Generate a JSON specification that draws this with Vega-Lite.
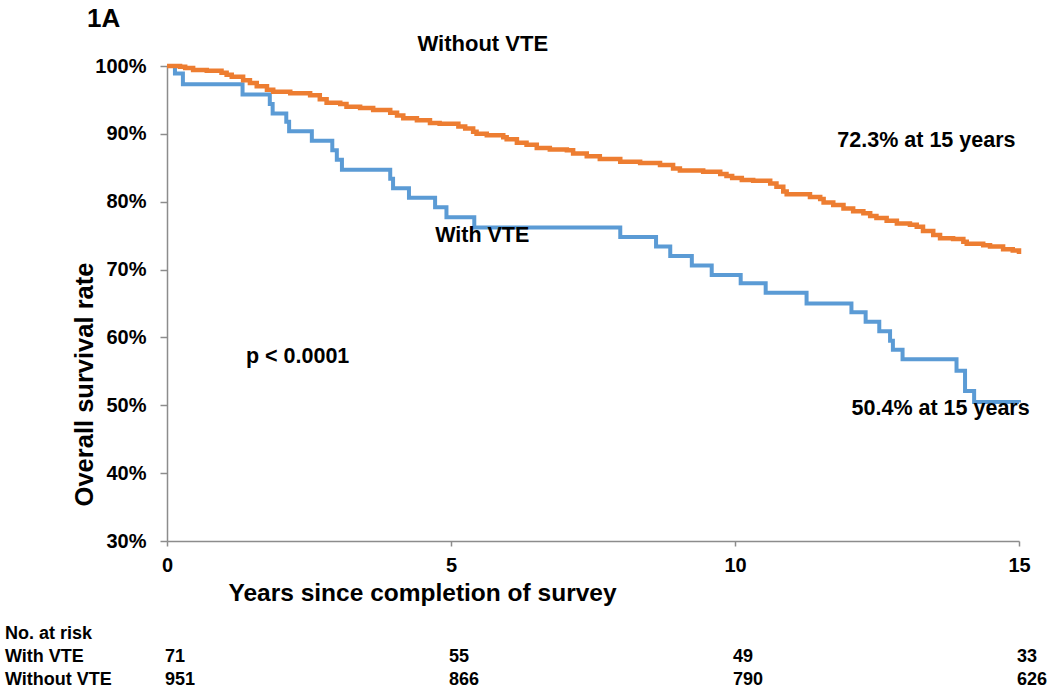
{
  "$schema": "https://vega.github.io/schema/vega-lite/v6.json",
  "width": 852,
  "height": 475,
  "autosize": "none",
  "padding": {"left": 167, "top": 66, "right": 31, "bottom": 150},
  "background": "white",
  "config": {
    "font": "Liberation Sans",
    "view": {"stroke": null},
    "axis": {"grid": false},
    "text": {"font": "Liberation Sans", "fontWeight": "bold", "color": "black"}
  },
  "datasets": {
    "surv": [
      {"group": "With VTE", "year": 0, "survival": 100},
      {"group": "With VTE", "year": 0.14, "survival": 98.9},
      {"group": "With VTE", "year": 0.28, "survival": 97.3},
      {"group": "With VTE", "year": 1.33, "survival": 95.8},
      {"group": "With VTE", "year": 1.81, "survival": 94.4},
      {"group": "With VTE", "year": 1.86, "survival": 93.0},
      {"group": "With VTE", "year": 2.1, "survival": 91.8},
      {"group": "With VTE", "year": 2.15, "survival": 90.4},
      {"group": "With VTE", "year": 2.55, "survival": 89.0},
      {"group": "With VTE", "year": 2.91, "survival": 87.6},
      {"group": "With VTE", "year": 2.99, "survival": 86.2},
      {"group": "With VTE", "year": 3.08, "survival": 84.7},
      {"group": "With VTE", "year": 3.93, "survival": 83.4},
      {"group": "With VTE", "year": 3.98, "survival": 82.0},
      {"group": "With VTE", "year": 4.26, "survival": 80.6},
      {"group": "With VTE", "year": 4.72, "survival": 79.2},
      {"group": "With VTE", "year": 4.92, "survival": 77.7},
      {"group": "With VTE", "year": 5.41, "survival": 76.2},
      {"group": "With VTE", "year": 7.98, "survival": 74.8},
      {"group": "With VTE", "year": 8.61, "survival": 73.4},
      {"group": "With VTE", "year": 8.86, "survival": 72.0},
      {"group": "With VTE", "year": 9.24, "survival": 70.6},
      {"group": "With VTE", "year": 9.59, "survival": 69.2},
      {"group": "With VTE", "year": 10.1, "survival": 68.0},
      {"group": "With VTE", "year": 10.54, "survival": 66.6},
      {"group": "With VTE", "year": 11.26, "survival": 65.0},
      {"group": "With VTE", "year": 12.05, "survival": 63.7},
      {"group": "With VTE", "year": 12.3, "survival": 62.3},
      {"group": "With VTE", "year": 12.54, "survival": 60.9},
      {"group": "With VTE", "year": 12.73, "survival": 59.5},
      {"group": "With VTE", "year": 12.78, "survival": 58.2},
      {"group": "With VTE", "year": 12.95, "survival": 56.8},
      {"group": "With VTE", "year": 13.9, "survival": 55.1},
      {"group": "With VTE", "year": 14.05, "survival": 52.1},
      {"group": "With VTE", "year": 14.21, "survival": 50.5},
      {"group": "With VTE", "year": 15, "survival": 50.4},
      {"group": "Without VTE", "year": 0, "survival": 100},
      {"group": "Without VTE", "year": 0.23, "survival": 99.9},
      {"group": "Without VTE", "year": 0.32, "survival": 99.7},
      {"group": "Without VTE", "year": 0.46, "survival": 99.4},
      {"group": "Without VTE", "year": 0.7, "survival": 99.3},
      {"group": "Without VTE", "year": 0.96, "survival": 99.0},
      {"group": "Without VTE", "year": 1.05, "survival": 98.7},
      {"group": "Without VTE", "year": 1.14, "survival": 98.4},
      {"group": "Without VTE", "year": 1.34, "survival": 97.9},
      {"group": "Without VTE", "year": 1.46, "survival": 97.5},
      {"group": "Without VTE", "year": 1.58, "survival": 97.0},
      {"group": "Without VTE", "year": 1.76, "survival": 96.5},
      {"group": "Without VTE", "year": 1.87, "survival": 96.2},
      {"group": "Without VTE", "year": 2.17, "survival": 96.0},
      {"group": "Without VTE", "year": 2.52, "survival": 95.7},
      {"group": "Without VTE", "year": 2.69, "survival": 95.1},
      {"group": "Without VTE", "year": 2.81, "survival": 94.6},
      {"group": "Without VTE", "year": 3.05, "survival": 94.4},
      {"group": "Without VTE", "year": 3.16, "survival": 94.0},
      {"group": "Without VTE", "year": 3.4, "survival": 93.8},
      {"group": "Without VTE", "year": 3.63, "survival": 93.5},
      {"group": "Without VTE", "year": 3.93, "survival": 93.1},
      {"group": "Without VTE", "year": 4.05, "survival": 92.7},
      {"group": "Without VTE", "year": 4.16, "survival": 92.3},
      {"group": "Without VTE", "year": 4.4, "survival": 92.0},
      {"group": "Without VTE", "year": 4.63, "survival": 91.6},
      {"group": "Without VTE", "year": 4.8, "survival": 91.5},
      {"group": "Without VTE", "year": 5.13, "survival": 91.1},
      {"group": "Without VTE", "year": 5.25, "survival": 90.8},
      {"group": "Without VTE", "year": 5.39, "survival": 90.3},
      {"group": "Without VTE", "year": 5.45, "survival": 90.0},
      {"group": "Without VTE", "year": 5.63, "survival": 89.8},
      {"group": "Without VTE", "year": 5.92, "survival": 89.5},
      {"group": "Without VTE", "year": 5.98, "survival": 89.2},
      {"group": "Without VTE", "year": 6.16, "survival": 88.7},
      {"group": "Without VTE", "year": 6.33, "survival": 88.4},
      {"group": "Without VTE", "year": 6.51, "survival": 87.9},
      {"group": "Without VTE", "year": 6.74, "survival": 87.7},
      {"group": "Without VTE", "year": 7.04, "survival": 87.6},
      {"group": "Without VTE", "year": 7.15, "survival": 87.1},
      {"group": "Without VTE", "year": 7.39, "survival": 86.7},
      {"group": "Without VTE", "year": 7.62, "survival": 86.3},
      {"group": "Without VTE", "year": 7.98, "survival": 85.9},
      {"group": "Without VTE", "year": 8.33, "survival": 85.7},
      {"group": "Without VTE", "year": 8.68, "survival": 85.4},
      {"group": "Without VTE", "year": 8.91, "survival": 84.9},
      {"group": "Without VTE", "year": 9.03, "survival": 84.6},
      {"group": "Without VTE", "year": 9.44, "survival": 84.4},
      {"group": "Without VTE", "year": 9.74, "survival": 84.1},
      {"group": "Without VTE", "year": 9.85, "survival": 83.8},
      {"group": "Without VTE", "year": 9.95, "survival": 83.5},
      {"group": "Without VTE", "year": 10.12, "survival": 83.2},
      {"group": "Without VTE", "year": 10.32, "survival": 83.1},
      {"group": "Without VTE", "year": 10.62, "survival": 82.7},
      {"group": "Without VTE", "year": 10.73, "survival": 82.2},
      {"group": "Without VTE", "year": 10.85, "survival": 81.5},
      {"group": "Without VTE", "year": 10.91, "survival": 81.1},
      {"group": "Without VTE", "year": 11.32, "survival": 80.7},
      {"group": "Without VTE", "year": 11.5, "survival": 80.4},
      {"group": "Without VTE", "year": 11.56, "survival": 79.9},
      {"group": "Without VTE", "year": 11.73, "survival": 79.5},
      {"group": "Without VTE", "year": 11.91, "survival": 79.0},
      {"group": "Without VTE", "year": 12.08, "survival": 78.6},
      {"group": "Without VTE", "year": 12.26, "survival": 78.3},
      {"group": "Without VTE", "year": 12.38, "survival": 77.9},
      {"group": "Without VTE", "year": 12.49, "survival": 77.6},
      {"group": "Without VTE", "year": 12.67, "survival": 77.2},
      {"group": "Without VTE", "year": 12.85, "survival": 76.8},
      {"group": "Without VTE", "year": 13.08, "survival": 76.6},
      {"group": "Without VTE", "year": 13.2, "survival": 76.3},
      {"group": "Without VTE", "year": 13.31, "survival": 75.7},
      {"group": "Without VTE", "year": 13.49, "survival": 75.1},
      {"group": "Without VTE", "year": 13.61, "survival": 74.6},
      {"group": "Without VTE", "year": 13.84, "survival": 74.5},
      {"group": "Without VTE", "year": 14.02, "survival": 74.1},
      {"group": "Without VTE", "year": 14.08, "survival": 73.8},
      {"group": "Without VTE", "year": 14.37, "survival": 73.6},
      {"group": "Without VTE", "year": 14.49, "survival": 73.4},
      {"group": "Without VTE", "year": 14.72, "survival": 73.0},
      {"group": "Without VTE", "year": 14.89, "survival": 72.8},
      {"group": "Without VTE", "year": 15, "survival": 72.3}
    ],
    "risk": [
      {"row": "With VTE", "year": 0, "n": "71"},
      {"row": "With VTE", "year": 5, "n": "55"},
      {"row": "With VTE", "year": 10, "n": "49"},
      {"row": "With VTE", "year": 15, "n": "33"},
      {"row": "Without VTE", "year": 0, "n": "951"},
      {"row": "Without VTE", "year": 5, "n": "866"},
      {"row": "Without VTE", "year": 10, "n": "790"},
      {"row": "Without VTE", "year": 15, "n": "626"}
    ],
    "rows": [
      {"row": "No. at risk"},
      {"row": "With VTE"},
      {"row": "Without VTE"}
    ]
  },
  "layer": [
    {
      "layer": [
        {
          "data": {"name": "surv"},
          "transform": [{"filter": "datum.group === 'With VTE'"}],
          "mark": {"type": "line", "interpolate": "step-after", "strokeWidth": 4},
          "encoding": {
            "x": {
              "field": "year", "type": "quantitative",
              "scale": {"domain": [0, 15], "nice": false, "zero": false},
              "axis": {
                "values": [0, 5, 10, 15],
                "format": "d",
                "labelFlush": false,
                "title": "Years since completion of survey",
                "labelFont": "Liberation Sans", "labelFontSize": 20, "labelFontWeight": "bold", "labelColor": "black",
                "labelPadding": 9, "tickSize": 5, "tickColor": "#8c8c8c", "domainColor": "#8c8c8c", "domainWidth": 1.5, "tickWidth": 1.5,
                "titleFont": "Liberation Sans", "titleFontSize": 24.5, "titleFontWeight": "bold", "titleColor": "black",
                "titleX": 255, "titleY": 52, "titleAlign": "center", "titleBaseline": "middle"
              }
            },
            "y": {
              "field": "survival", "type": "quantitative",
              "scale": {"domain": [30, 100], "nice": false, "zero": false},
              "axis": {
                "values": [30, 40, 50, 60, 70, 80, 90, 100],
                "labelExpr": "datum.value + '%'",
                "labelFlush": false,
                "title": "Overall survival rate",
                "labelFont": "Liberation Sans", "labelFontSize": 20, "labelFontWeight": "bold", "labelColor": "black",
                "labelPadding": 14, "tickSize": 7, "tickColor": "#8c8c8c", "domainColor": "#8c8c8c", "domainWidth": 1.5, "tickWidth": 1.5,
                "titleFont": "Liberation Sans", "titleFontSize": 25.5, "titleFontWeight": "bold", "titleColor": "black",
                "titleX": -83, "titleY": 318, "titleAngle": 270, "titleAlign": "center", "titleBaseline": "middle"
              }
            },
            "color": {"field": "group", "type": "nominal", "scale": {"domain": ["With VTE", "Without VTE"], "range": ["#5B9BD5", "#ED7D31"]}, "legend": null}
          }
        },
        {
          "data": {"name": "surv"},
          "transform": [{"filter": "datum.group === 'Without VTE'"}],
          "mark": {"type": "line", "interpolate": "step-after", "strokeWidth": 4.5},
          "encoding": {
            "x": {"field": "year", "type": "quantitative", "scale": {"domain": [0, 15], "nice": false, "zero": false}},
            "y": {"field": "survival", "type": "quantitative", "scale": {"domain": [30, 100], "nice": false, "zero": false}},
            "color": {"field": "group", "type": "nominal", "scale": {"domain": ["With VTE", "Without VTE"], "range": ["#5B9BD5", "#ED7D31"]}, "legend": null}
          }
        },
        {
          "data": {"values": [{"label": "1A"}]},
          "mark": {"type": "text", "fontSize": 26, "align": "left", "baseline": "middle"},
          "encoding": {
            "x": {"datum": -1.408, "type": "quantitative"},
            "y": {"datum": 107.0, "type": "quantitative"},
            "text": {"field": "label"}
          }
        },
        {
          "data": {"values": [{"label": "Without VTE"}]},
          "mark": {"type": "text", "fontSize": 22, "align": "center", "baseline": "middle"},
          "encoding": {
            "x": {"datum": 5.56, "type": "quantitative"},
            "y": {"datum": 103.2, "type": "quantitative"},
            "text": {"field": "label"}
          }
        },
        {
          "data": {"values": [{"label": "72.3% at 15 years"}]},
          "mark": {"type": "text", "fontSize": 21.5, "align": "center", "baseline": "middle"},
          "encoding": {
            "x": {"datum": 13.37, "type": "quantitative"},
            "y": {"datum": 88.95, "type": "quantitative"},
            "text": {"field": "label"}
          }
        },
        {
          "data": {"values": [{"label": "With VTE"}]},
          "mark": {"type": "text", "fontSize": 21.5, "align": "center", "baseline": "middle"},
          "encoding": {
            "x": {"datum": 5.55, "type": "quantitative"},
            "y": {"datum": 74.95, "type": "quantitative"},
            "text": {"field": "label"}
          }
        },
        {
          "data": {"values": [{"label": "p < 0.0001"}]},
          "mark": {"type": "text", "fontSize": 21.5, "align": "center", "baseline": "middle"},
          "encoding": {
            "x": {"datum": 2.3, "type": "quantitative"},
            "y": {"datum": 57.1, "type": "quantitative"},
            "text": {"field": "label"}
          }
        },
        {
          "data": {"values": [{"label": "50.4% at 15 years"}]},
          "mark": {"type": "text", "fontSize": 21.5, "align": "center", "baseline": "middle"},
          "encoding": {
            "x": {"datum": 13.62, "type": "quantitative"},
            "y": {"datum": 49.45, "type": "quantitative"},
            "text": {"field": "label"}
          }
        }
      ]
    },
    {
      "layer": [
        {
          "data": {"name": "risk"},
          "mark": {"type": "text", "fontSize": 18, "align": "left", "baseline": "middle", "dx": -2},
          "encoding": {
            "x": {"field": "year", "type": "quantitative"},
            "y": {"field": "row", "type": "ordinal", "scale": {"type": "point", "domain": ["No. at risk", "With VTE", "Without VTE"], "range": [568, 614], "padding": 0}, "axis": null},
            "text": {"field": "n"}
          }
        },
        {
          "data": {"name": "rows"},
          "mark": {"type": "text", "fontSize": 18, "align": "left", "baseline": "middle"},
          "encoding": {
            "x": {"datum": -2.852, "type": "quantitative"},
            "y": {"field": "row", "type": "ordinal", "scale": {"type": "point", "domain": ["No. at risk", "With VTE", "Without VTE"], "range": [568, 614], "padding": 0}, "axis": null},
            "text": {"field": "row"}
          }
        }
      ]
    }
  ],
  "resolve": {"scale": {"y": "independent"}}
}
